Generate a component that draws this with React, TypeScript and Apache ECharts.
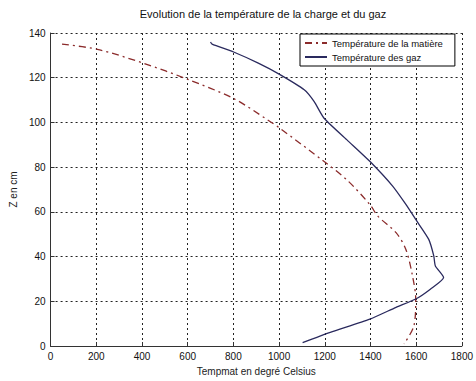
import React, { useEffect, useRef } from "react";
import * as echarts from "echarts";

const titleText = "Evolution de la température de la charge et du gaz";
const seriesNames = ["Température de la matière", "Température des gaz"];
const xTicks = [0, 200, 400, 600, 800, 1000, 1200, 1400, 1600, 1800];
const yTicks = [0, 20, 40, 60, 80, 100, 120, 140];

// [temperature °C, Z cm]
const matiere: [number, number][] = [
  [50, 135], [205, 132.7], [406, 126.5], [600, 119.3], [801, 110.7],
  [952, 101], [1002, 97.5], [1196, 82.6], [1300, 74], [1397, 63.3],
  [1433, 58], [1512, 50.7], [1555, 43.2], [1584, 31.3], [1598, 21],
  [1590, 9], [1547, 1],
];
const gaz: [number, number][] = [
  [700, 136], [707, 135], [801, 131.5], [909, 126.5], [1002, 121.5],
  [1110, 114.6], [1153, 109.4], [1196, 102], [1296, 92.3], [1397, 82.6],
  [1497, 71.5], [1555, 63.3], [1598, 56.6], [1655, 47.7], [1677, 40.3],
  [1684, 35.8], [1720, 30.6], [1662, 25.4], [1598, 21], [1512, 17.3],
  [1397, 12], [1224, 6.1], [1103, 1.5],
];

export default function App() {
  const ref = useRef<HTMLDivElement>(null);
  useEffect(() => {
    if (!ref.current) return;
    const chart = echarts.init(ref.current, null, { renderer: "svg" });
    const font = "Liberation Sans, Arial, sans-serif";
    const gridLine = { show: true, lineStyle: { color: "#222", type: [2, 3] as any, width: 1 } };
    chart.setOption({
      animation: false,
      backgroundColor: "#fff",
      title: {
        text: titleText,
        left: 258,
        textAlign: "center",
        top: 3,
        textStyle: { fontSize: 11, fontWeight: "normal", color: "#111", fontFamily: font },
      },
      legend: {
        orient: "vertical",
        left: 300,
        top: 34,
        itemWidth: 22,
        itemHeight: 8,
        itemGap: 4,
        padding: [4, 12, 4, 4],
        borderColor: "#000",
        borderWidth: 1,
        backgroundColor: "#fff",
        itemStyle: { opacity: 0 },
        textStyle: { fontSize: 9.5, color: "#111", fontFamily: font },
        data: seriesNames,
      },
      grid: { left: 49, right: 9, top: 33, bottom: 34, containLabel: false },
      xAxis: {
        type: "value",
        min: 0,
        max: 1800,
        interval: 200,
        name: "Tempmat en degré Celsius",
        nameLocation: "middle",
        nameGap: 20,
        nameTextStyle: { fontSize: 10, color: "#222", fontFamily: font },
        axisLine: { show: true, onZero: false, lineStyle: { color: "#333", width: 1 } },
        axisTick: { show: true, inside: true, length: 4, lineStyle: { color: "#333" } },
        axisLabel: {
          fontSize: 10, color: "#111", fontFamily: font, margin: 5,
          formatter: (v: number) => (xTicks.includes(v) ? String(v) : ""),
        },
        splitLine: gridLine,
      },
      yAxis: {
        type: "value",
        min: 0,
        max: 140,
        interval: 20,
        name: "Z en cm",
        nameLocation: "middle",
        nameGap: 28,
        nameRotate: 90,
        nameTextStyle: { fontSize: 10, color: "#222", fontFamily: font },
        axisLine: { show: true, onZero: false, lineStyle: { color: "#333", width: 1 } },
        axisTick: { show: true, inside: true, length: 4, lineStyle: { color: "#333" } },
        axisLabel: {
          fontSize: 10, color: "#111", fontFamily: font, margin: 5,
          formatter: (v: number) => (yTicks.includes(v) ? String(v) : ""),
        },
        splitLine: gridLine,
      },
      series: [
        {
          name: seriesNames[0],
          type: "line",
          data: matiere,
          showSymbol: false,
          symbol: "none",
          smooth: 0.3,
          lineStyle: { color: "#8b2b2b", width: 1.3, type: [7, 4, 2, 4] as any },
          itemStyle: { color: "#8b2b2b" },
        },
        {
          name: seriesNames[1],
          type: "line",
          data: gaz,
          showSymbol: false,
          symbol: "none",
          smooth: 0.2,
          lineStyle: { color: "#2a2a5e", width: 1.3 },
          itemStyle: { color: "#2a2a5e" },
        },
      ],
    });
    return () => chart.dispose();
  }, []);
  return <div ref={ref} style={{ width: 476, height: 381, position: "absolute", left: 0, top: 0 }} />;
}
